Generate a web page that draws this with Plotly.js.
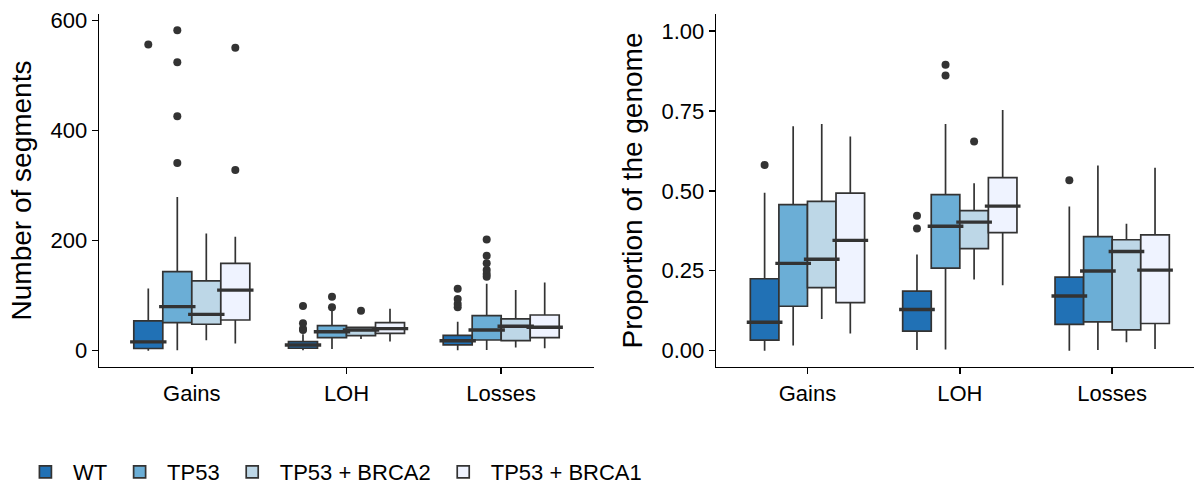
<!DOCTYPE html>
<html>
<head>
<meta charset="utf-8">
<script src="https://cdn.plot.ly/plotly-3.0.1.min.js"></script>
<style>html,body{margin:0;padding:0;background:#fff;}#chart{width:1194px;height:493px;}</style>
</head>
<body>
<div id="chart"></div>
<script>
// Categories and groups
const categories = ['Gains', 'LOH', 'Losses'];
const groups = ['WT', 'TP53', 'TP53 + BRCA2', 'TP53 + BRCA1'];
const colors = ['#2171B5', '#6BAED6', '#BDD7E7', '#EFF3FF'];

// Left panel: Number of segments (per group, per category [Gains, LOH, Losses])
const segLowerFence = [[0, 1, 1], [1, 3, 1.3], [19, 21, 6], [13, 16.5, 4.4]];
const segQ1 = [[4, 4.4, 10.4], [51, 23.6, 19.4], [48, 27.3, 18.2], [55.7, 31.6, 23.6]];
const segMedian = [[16, 10.4, 18], [80, 34.5, 37.6], [66, 37.6, 44.3], [110, 40, 42.5]];
const segQ3 = [[54, 16.4, 27.9], [143.5, 45.4, 63.6], [126.6, 42.5, 57.6], [158.7, 50.8, 64.8]];
const segUpperFence = [[113, 30, 52.7], [279, 74, 121.7], [213, 44, 110], [207, 76, 124]];
const segOutliers = [
  [[556], [37.6, 40, 49.7, 81], [78.8, 85, 94, 112.6]],
  [[341, 425.6, 524, 582], [79, 98], [134.4, 139.3, 146.5, 158.7, 172.5, 202]],
  [[null], [72.6], [null]],
  [[328, 550], [null], [null]]
];

// Right panel: Proportion of the genome
const propLowerFence = [[0, 0.002, 0], [0.016, 0.004, 0.002], [0.099, 0.223, 0.026], [0.054, 0.205, 0.005]];
const propQ1 = [[0.033, 0.061, 0.082], [0.139, 0.258, 0.090], [0.197, 0.319, 0.065], [0.150, 0.369, 0.085]];
const propMedian = [[0.089, 0.129, 0.171], [0.273, 0.389, 0.249], [0.286, 0.402, 0.310], [0.345, 0.452, 0.252]];
const propQ3 = [[0.225, 0.186, 0.230], [0.457, 0.488, 0.357], [0.467, 0.438, 0.347], [0.493, 0.541, 0.362]];
const propUpperFence = [[0.494, 0.301, 0.451], [0.702, 0.709, 0.579], [0.709, 0.524, 0.397], [0.670, 0.753, 0.572]];
const propOutliers = [
  [[0.581], [0.382, 0.422], [0.533]],
  [[null], [0.861, 0.894], [null]],
  [[null], [0.654], [null]],
  [[null], [null], [null]]
];

const FONT = 'Liberation Sans, Arial, Helvetica, sans-serif';
const LINE = '#333333';

function makeTraces(lf, q1, med, q3, uf, outl, xa, ya, showLegend, panel, medWidth) {
  const boxes = groups.map((g, i) => ({
    type: 'box',
    name: g,
    legendgroup: g,
    showlegend: showLegend,
    alignmentgroup: panel,
    offsetgroup: 'g' + i,
    x: categories,
    y: outl[i],
    q1: q1[i],
    median: med[i],
    q3: q3[i],
    lowerfence: lf[i],
    upperfence: uf[i],
    boxpoints: 'outliers',
    jitter: 0,
    pointpos: 0,
    whiskerwidth: 0,
    fillcolor: colors[i],
    line: {color: LINE, width: 1.7},
    marker: {color: LINE, size: 8, outliercolor: LINE, line: {width: 0}},
    xaxis: xa,
    yaxis: ya,
    hoverinfo: 'skip'
  }));
  // thicker median bars (ggplot style), drawn from the same medians
  const medians = groups.map((g, i) => ({
    type: 'scatter',
    mode: 'markers',
    name: g,
    legendgroup: g,
    showlegend: false,
    alignmentgroup: panel,
    offsetgroup: 'g' + i,
    x: categories,
    y: med[i],
    marker: {symbol: 'line-ew', size: medWidth, color: LINE, line: {color: LINE, width: 3.4}},
    xaxis: xa,
    yaxis: ya,
    hoverinfo: 'skip'
  }));
  return boxes.concat(medians);
}

const traces = [].concat(
  makeTraces(segLowerFence, segQ1, segMedian, segQ3, segUpperFence, segOutliers, 'x', 'y', true, 'left', 26),
  makeTraces(propLowerFence, propQ1, propMedian, propQ3, propUpperFence, propOutliers, 'x2', 'y2', false, 'right', 25.5)
);

const axisCommon = {
  showgrid: false, zeroline: false, showline: true, linecolor: '#000', linewidth: 1.4,
  ticks: 'outside', ticklen: 6, tickwidth: 1.4, tickcolor: '#000',
  tickfont: {family: FONT, size: 22, color: '#000'}
};

const layout = {
  width: 1194, height: 493,
  margin: {l: 0, r: 0, t: 0, b: 0},
  paper_bgcolor: '#fff', plot_bgcolor: '#fff',
  boxmode: 'group', boxgap: 0.25, boxgroupgap: 0,
  scattermode: 'group', scattergap: 0.25,
  font: {family: FONT, color: '#000'},
  xaxis: Object.assign({}, axisCommon, {domain: [0.0829, 0.4975], range: [-0.6, 2.6], type: 'category', anchor: 'y'}),
  yaxis: Object.assign({}, axisCommon, {domain: [0.2556, 0.9716], range: [-29.6, 611.4], tickvals: [0, 200, 400, 600], anchor: 'x',
    title: {text: 'Number of segments', font: {family: FONT, size: 28, color: '#000'}, standoff: 10}}),
  xaxis2: Object.assign({}, axisCommon, {domain: [0.5997, 1], range: [-0.6, 2.537], type: 'category', anchor: 'y2'}),
  yaxis2: Object.assign({}, axisCommon, {domain: [0.2556, 0.9716], range: [-0.051, 1.053], tickvals: [0, 0.25, 0.5, 0.75, 1], ticktext: ['0.00', '0.25', '0.50', '0.75', '1.00'], anchor: 'x2',
    title: {text: 'Proportion of the genome', font: {family: FONT, size: 28, color: '#000'}, standoff: 10}}),
  showlegend: true,
  legend: {orientation: 'h', x: 0.015, xanchor: 'left', y: 0, yanchor: 'bottom',
    font: {family: FONT, size: 22, color: '#000'}, itemwidth: 45, traceorder: 'normal', bgcolor: 'rgba(0,0,0,0)'}
};

Plotly.newPlot('chart', traces, layout, {displayModeBar: false, staticPlot: true});
</script>
</body>
</html>
